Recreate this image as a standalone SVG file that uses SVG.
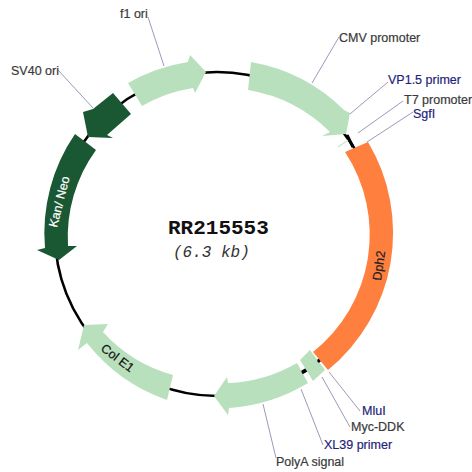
<svg xmlns="http://www.w3.org/2000/svg" width="472" height="472" viewBox="0 0 472 472">
<style>
.light{fill:#b9e0bc}
.dark{fill:#1a5733}
.lead{stroke:#9a9abc;stroke-width:1;fill:none}
.t{font-family:"Liberation Sans",Arial,sans-serif;font-size:12.5px;stroke-width:.2;stroke:currentColor}
.g{fill:#3a3a3a;color:#3a3a3a}
.n{fill:#1f1f7a;color:#1f1f7a}
.tick{stroke:#000;stroke-width:3;fill:none}
</style>
<rect width="472" height="472" fill="#fff"/>
<g id="connectors">
<circle cx="217" cy="234" r="162" fill="none" stroke="#000" stroke-width="2.6"/>
<path class="lead" d="M148 17L164 66"/>
<path class="lead" d="M58 70L93 108"/>
<path class="lead" d="M339 37L312 83"/>
<path class="lead" d="M388 82L350 114"/>
<path class="lead" d="M403 101L358 133"/>
<path class="lead" d="M413 112L367 142"/>
<path class="lead" d="M360 411L329 372"/>
<path class="lead" d="M350 427L322 377"/>
<path class="lead" d="M323 445L301 389"/>
<path class="lead" d="M276 458L263 404"/>
</g>
<g id="f1-ori"><path class="light" d="M128 83A175 175 0 0 1 188 62L190 55L206 72L195 93L193 88A148 148 0 0 0 142 106Z"/><text class="t g" x="120" y="18">f1 ori</text></g>
<g id="sv40-ori"><path class="dark" d="M113 93L131 114L107 135L113 138L88 137L83 112L93 109Z"/><text class="t g" x="11" y="75">SV40 ori</text></g>
<g id="kan-neo"><path class="dark" d="M75 134L96 150A148 148 0 0 0 68 246L77 246L59 260L37 250L45 248A175 175 0 0 1 75 134Z"/><text class="t" fill="#fff" color="#fff" transform="translate(57 228) rotate(-76)">Kan/ Neo</text></g>
<g id="col-e1"><path class="light" d="M84 325L108 324L103 332A148 148 0 0 0 173 375L167 400A175 175 0 0 1 87 343L78 350Z"/><text class="t" fill="#111" color="#111" transform="translate(100 350) rotate(37)">Col E1</text></g>
<g id="polya-signal"><path class="light" d="M214 396L227 377L228 383A148 148 0 0 0 297 363L308 383A175 175 0 0 1 229 408L228 415Z"/><text class="t g" x="276" y="466">PolyA signal</text></g>
<g id="xl39-primer"><path class="tick" d="M302 373L307 370"/><text class="t n" x="324" y="449">XL39 primer</text></g>
<g id="myc-ddk"><path class="light" d="M310 350L325 370L313 381L300 360Z"/><text class="t g" x="351" y="431">Myc-DDK</text></g>
<g id="mlui"><path class="tick" d="M318 360L320 362"/><text class="t n" x="362" y="415">MluI</text></g>
<g id="dph2"><path d="M345 152L368 142A177 177 0 0 1 328 370L313 352A150 150 0 0 0 345 152Z" fill="#ff7f3f"/><text class="t" fill="#222" color="#222" transform="translate(381 281) rotate(-82)">Dph2</text></g>
<g id="sgfi"><text class="t n" x="413" y="118">SgfI</text></g>
<g id="t7-promoter"><path d="M338 147L350 139" stroke="#cfe8cf" stroke-width="1.5" fill="none"/><text class="t g" x="404" y="104">T7 promoter</text></g>
<g id="cmv-promoter"><path class="light" d="M251 62A175 175 0 0 1 344 110L350 113L346 134L322 136L330 132A152 152 0 0 0 248 90Z"/><text class="t g" x="339" y="42">CMV promoter</text></g>
<g id="vp15-primer"><text class="t n" x="388" y="84">VP1.5 primer</text></g>
<path class="tick" d="M347 135L353 147"/>
<g id="title"><text x="168" y="234" font-family="'Liberation Mono','Courier New',monospace" font-weight="700" font-size="21" fill="#111">RR215553</text>
<text x="173" y="257" font-family="'Liberation Mono','Courier New',monospace" font-style="italic" font-size="16" fill="#333">(6.3 kb)</text></g>
</svg>
